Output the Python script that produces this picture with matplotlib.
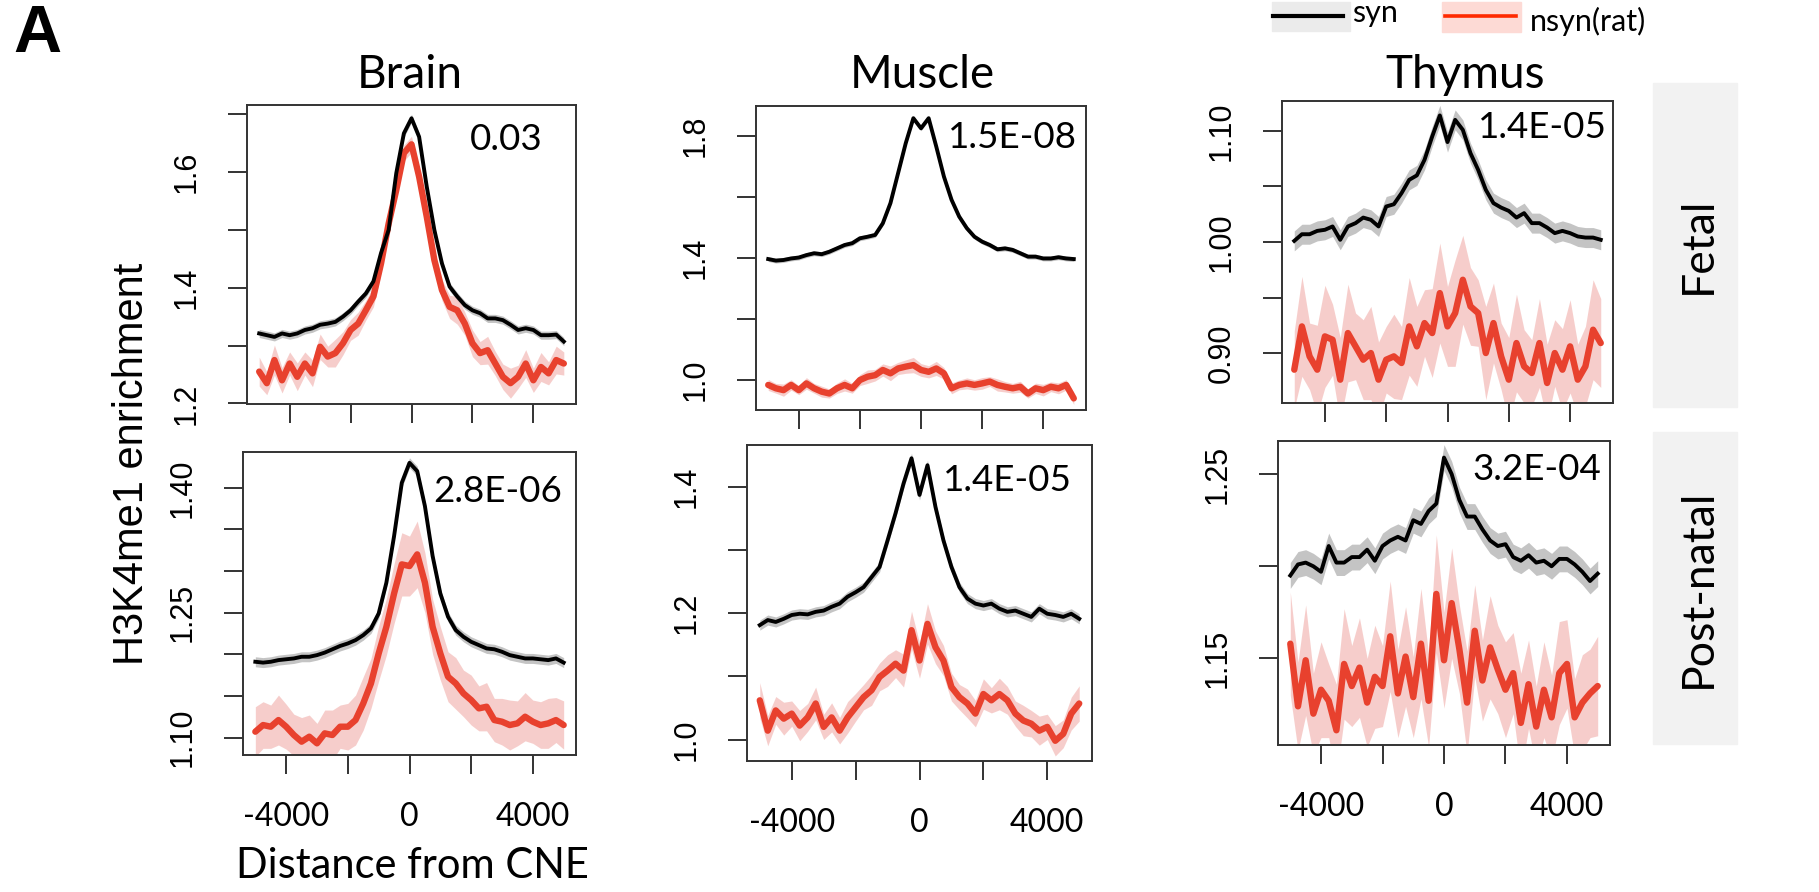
import numpy as np
import matplotlib.pyplot as plt
from matplotlib import font_manager
from matplotlib.patches import Rectangle
from matplotlib.lines import Line2D

# distance bins (bp) shared by every profile
distance = np.arange(-5000, 5001, 250)

# ---- Brain ----
brain_fetal_syn = [1.321, 1.318, 1.315, 1.321, 1.318, 1.321, 1.327, 1.330, 1.336, 1.338, 1.341,
                   1.350, 1.361, 1.376, 1.390, 1.411, 1.460, 1.500, 1.598, 1.667, 1.693, 1.661,
                   1.575, 1.500, 1.442, 1.402, 1.385, 1.370, 1.361, 1.356, 1.347, 1.347, 1.344,
                   1.336, 1.327, 1.330, 1.327, 1.318, 1.318, 1.319, 1.307]
brain_fetal_nsyn = [1.255, 1.235, 1.275, 1.240, 1.269, 1.246, 1.269, 1.252, 1.298, 1.281, 1.287,
                    1.304, 1.327, 1.338, 1.361, 1.385, 1.442, 1.511, 1.569, 1.633, 1.648, 1.592,
                    1.523, 1.448, 1.396, 1.367, 1.361, 1.338, 1.304, 1.287, 1.292, 1.269, 1.246,
                    1.235, 1.246, 1.269, 1.240, 1.263, 1.252, 1.275, 1.269]
brain_fetal_nsyn_ci = [0.025, 0.02, 0.026, 0.022, 0.02, 0.024, 0.02, 0.023, 0.022, 0.018, 0.024,
                       0.02, 0.018, 0.02, 0.017, 0.018, 0.016, 0.015, 0.015, 0.014, 0.014, 0.015,
                       0.016, 0.017, 0.018, 0.02, 0.024, 0.02, 0.023, 0.02, 0.024, 0.021, 0.022,
                       0.026, 0.02, 0.024, 0.021, 0.025, 0.02, 0.024, 0.02]
brain_post_syn = [1.191, 1.190, 1.191, 1.193, 1.194, 1.195, 1.197, 1.197, 1.199, 1.202, 1.206,
                  1.210, 1.213, 1.217, 1.223, 1.231, 1.249, 1.286, 1.342, 1.406, 1.430, 1.420,
                  1.378, 1.318, 1.273, 1.245, 1.229, 1.221, 1.215, 1.211, 1.207, 1.206, 1.203,
                  1.199, 1.197, 1.195, 1.195, 1.194, 1.193, 1.195, 1.190]
brain_post_nsyn = [1.107, 1.115, 1.113, 1.121, 1.113, 1.103, 1.095, 1.101, 1.093, 1.105, 1.103,
                   1.113, 1.113, 1.121, 1.141, 1.165, 1.201, 1.233, 1.273, 1.308, 1.306, 1.320,
                   1.286, 1.233, 1.201, 1.173, 1.165, 1.153, 1.145, 1.135, 1.137, 1.121, 1.119,
                   1.115, 1.117, 1.125, 1.119, 1.115, 1.117, 1.121, 1.115]
brain_post_nsyn_ci = [0.03, 0.028, 0.026, 0.03, 0.027, 0.025, 0.029, 0.026, 0.024, 0.028, 0.03,
                      0.026, 0.028, 0.03, 0.032, 0.03, 0.033, 0.034, 0.036, 0.038, 0.036, 0.04,
                      0.036, 0.033, 0.032, 0.03, 0.031, 0.028, 0.03, 0.027, 0.029, 0.026, 0.028,
                      0.03, 0.027, 0.029, 0.026, 0.028, 0.03, 0.027, 0.029]

# ---- Muscle ----
muscle_fetal_syn = [1.396, 1.391, 1.393, 1.398, 1.401, 1.409, 1.415, 1.412, 1.420, 1.431, 1.442,
                    1.448, 1.464, 1.469, 1.475, 1.513, 1.579, 1.677, 1.775, 1.857, 1.824, 1.857,
                    1.764, 1.666, 1.590, 1.535, 1.497, 1.469, 1.453, 1.442, 1.428, 1.431, 1.426,
                    1.415, 1.404, 1.404, 1.398, 1.398, 1.402, 1.398, 1.396]
muscle_fetal_nsyn = [0.984, 0.973, 0.967, 0.984, 0.967, 0.989, 0.973, 0.962, 0.956, 0.973, 0.984,
                     0.973, 1.000, 1.011, 1.016, 1.033, 1.022, 1.038, 1.044, 1.049, 1.033, 1.027,
                     1.038, 1.022, 0.973, 0.984, 0.989, 0.984, 0.989, 0.995, 0.984, 0.978, 0.973,
                     0.978, 0.956, 0.973, 0.967, 0.978, 0.973, 0.984, 0.940]
muscle_fetal_nsyn_ci = [0.018, 0.016, 0.02, 0.017, 0.015, 0.019, 0.016, 0.018, 0.015, 0.017, 0.02,
                        0.016, 0.018, 0.022, 0.019, 0.02, 0.024, 0.02, 0.022, 0.025, 0.021, 0.02,
                        0.023, 0.019, 0.018, 0.016, 0.018, 0.017, 0.019, 0.016, 0.02, 0.017, 0.016,
                        0.018, 0.015, 0.017, 0.019, 0.016, 0.018, 0.017, 0.02]
muscle_post_syn = [1.181, 1.189, 1.186, 1.191, 1.197, 1.199, 1.198, 1.202, 1.204, 1.210, 1.215,
                   1.226, 1.233, 1.241, 1.257, 1.273, 1.315, 1.358, 1.405, 1.445, 1.387, 1.434,
                   1.368, 1.315, 1.273, 1.241, 1.223, 1.215, 1.212, 1.215, 1.207, 1.202, 1.204,
                   1.199, 1.194, 1.207, 1.199, 1.197, 1.194, 1.199, 1.191]
muscle_post_nsyn = [1.062, 1.014, 1.046, 1.033, 1.041, 1.022, 1.035, 1.057, 1.020, 1.035, 1.014,
                    1.035, 1.051, 1.067, 1.078, 1.099, 1.109, 1.120, 1.109, 1.173, 1.125, 1.183,
                    1.146, 1.125, 1.083, 1.067, 1.057, 1.041, 1.072, 1.062, 1.072, 1.062, 1.041,
                    1.030, 1.025, 1.014, 1.020, 0.998, 1.009, 1.041, 1.057]
muscle_post_nsyn_ci = [0.028, 0.024, 0.022, 0.026, 0.02, 0.024, 0.022, 0.026, 0.02, 0.023, 0.021,
                       0.025, 0.022, 0.02, 0.024, 0.022, 0.025, 0.022, 0.026, 0.03, 0.028, 0.032,
                       0.026, 0.024, 0.022, 0.02, 0.023, 0.021, 0.024, 0.02, 0.025, 0.022, 0.02,
                       0.024, 0.021, 0.023, 0.02, 0.024, 0.022, 0.026, 0.028]

# ---- Thymus ----
thymus_fetal_syn = [1.001, 1.007, 1.007, 1.010, 1.011, 1.014, 1.002, 1.014, 1.017, 1.022, 1.020,
                    1.014, 1.032, 1.034, 1.044, 1.056, 1.060, 1.074, 1.095, 1.114, 1.090, 1.110,
                    1.101, 1.080, 1.065, 1.047, 1.035, 1.031, 1.028, 1.022, 1.026, 1.017, 1.017,
                    1.013, 1.008, 1.010, 1.008, 1.005, 1.004, 1.004, 1.002]
thymus_fetal_nsyn = [0.885, 0.924, 0.897, 0.885, 0.915, 0.912, 0.876, 0.918, 0.906, 0.894, 0.900,
                     0.876, 0.894, 0.897, 0.891, 0.924, 0.906, 0.927, 0.918, 0.954, 0.924, 0.936,
                     0.966, 0.942, 0.936, 0.900, 0.927, 0.897, 0.876, 0.909, 0.888, 0.882, 0.909,
                     0.873, 0.900, 0.885, 0.906, 0.876, 0.888, 0.921, 0.909]
thymus_fetal_nsyn_ci = [0.035, 0.045, 0.03, 0.04, 0.046, 0.032, 0.038, 0.044, 0.03, 0.036, 0.042,
                        0.034, 0.03, 0.038, 0.033, 0.044, 0.036, 0.03, 0.04, 0.045, 0.036, 0.048,
                        0.04, 0.035, 0.03, 0.042, 0.036, 0.03, 0.038, 0.044, 0.033, 0.03, 0.04,
                        0.035, 0.03, 0.037, 0.042, 0.032, 0.036, 0.045, 0.04]
thymus_post_syn = [1.195, 1.201, 1.202, 1.200, 1.197, 1.211, 1.202, 1.202, 1.205, 1.205, 1.209,
                   1.203, 1.211, 1.214, 1.216, 1.214, 1.225, 1.223, 1.230, 1.234, 1.259, 1.250,
                   1.236, 1.227, 1.227, 1.220, 1.214, 1.211, 1.212, 1.205, 1.203, 1.206, 1.202,
                   1.203, 1.200, 1.204, 1.204, 1.201, 1.197, 1.192, 1.196]
thymus_post_nsyn = [1.158, 1.124, 1.149, 1.120, 1.133, 1.127, 1.111, 1.147, 1.135, 1.145, 1.126,
                    1.140, 1.135, 1.162, 1.131, 1.151, 1.129, 1.158, 1.127, 1.185, 1.149, 1.180,
                    1.155, 1.126, 1.165, 1.138, 1.156, 1.144, 1.133, 1.142, 1.115, 1.136, 1.113,
                    1.133, 1.118, 1.142, 1.147, 1.118, 1.126, 1.131, 1.135]
thymus_post_nsyn_ci = [0.028, 0.024, 0.03, 0.022, 0.026, 0.02, 0.025, 0.03, 0.022, 0.027, 0.024,
                       0.028, 0.022, 0.03, 0.024, 0.027, 0.022, 0.03, 0.025, 0.032, 0.026, 0.03,
                       0.024, 0.028, 0.025, 0.022, 0.028, 0.024, 0.026, 0.022, 0.027, 0.024, 0.022,
                       0.026, 0.023, 0.028, 0.024, 0.021, 0.026, 0.024, 0.027]

# half-width of the syn confidence band, per panel
syn_ci = {"brain_fetal": 0.007, "muscle_fetal": 0.008, "thymus_fetal": 0.009,
          "brain_post": 0.006, "muscle_post": 0.008, "thymus_post": 0.007}

pvalues = {"brain_fetal": "0.03", "muscle_fetal": "1.5E-08", "thymus_fetal": "1.4E-05",
           "brain_post": "2.8E-06", "muscle_post": "1.4E-05", "thymus_post": "3.2E-04"}

tissues = ["Brain", "Muscle", "Thymus"]
stages = ["Fetal", "Post-natal"]

xticks = [-4000, -2000, 0, 2000, 4000]
xticklabels = ["-4000", "", "0", "", "4000"]

yticks = {"brain_fetal": [1.2, 1.3, 1.4, 1.5, 1.6, 1.7],
          "muscle_fetal": [1.0, 1.2, 1.4, 1.6, 1.8],
          "thymus_fetal": [0.90, 0.95, 1.00, 1.05, 1.10],
          "brain_post": [1.10, 1.15, 1.20, 1.25, 1.30, 1.35, 1.40],
          "muscle_post": [1.0, 1.1, 1.2, 1.3, 1.4],
          "thymus_post": [1.15, 1.20, 1.25]}
yticklabels = {"brain_fetal": ["1.2", "", "1.4", "", "1.6", ""],
               "muscle_fetal": ["1.0", "", "1.4", "", "1.8"],
               "thymus_fetal": ["0.90", "", "1.00", "", "1.10"],
               "brain_post": ["1.10", "", "", "1.25", "", "", "1.40"],
               "muscle_post": ["1.0", "", "1.2", "", "1.4"],
               "thymus_post": ["1.15", "", "1.25"]}
ylims = {"brain_fetal": (1.199, 1.716), "muscle_fetal": (0.902, 1.897),
         "thymus_fetal": (0.855, 1.127), "brain_post": (1.079, 1.443),
         "muscle_post": (0.966, 1.466), "thymus_post": (1.103, 1.268)}

profiles = {
    "brain_fetal": (brain_fetal_syn, brain_fetal_nsyn, brain_fetal_nsyn_ci),
    "muscle_fetal": (muscle_fetal_syn, muscle_fetal_nsyn, muscle_fetal_nsyn_ci),
    "thymus_fetal": (thymus_fetal_syn, thymus_fetal_nsyn, thymus_fetal_nsyn_ci),
    "brain_post": (brain_post_syn, brain_post_nsyn, brain_post_nsyn_ci),
    "muscle_post": (muscle_post_syn, muscle_post_nsyn, muscle_post_nsyn_ci),
    "thymus_post": (thymus_post_syn, thymus_post_nsyn, thymus_post_nsyn_ci),
}


def has_font(name):
    try:
        font_manager.findfont(name, fallback_to_default=False)
        return True
    except ValueError:
        return False


CAL = "Lato"
ARIAL = "Liberation Sans"
NARROW = "Liberation Sans Narrow" if has_font("Liberation Sans Narrow") else ARIAL

W, H = 1819, 892
fig = plt.figure(figsize=(W / 100, H / 100), dpi=100)

# panel boxes in pixels: left, top, right, bottom
boxes = {"brain_fetal": (247, 105, 576, 404), "muscle_fetal": (756, 106, 1086, 410),
         "thymus_fetal": (1282, 101, 1613, 403), "brain_post": (243, 452, 576, 755),
         "muscle_post": (747, 445, 1092, 761), "thymus_post": (1278, 441, 1610, 745)}
pval_pos = {"brain_fetal": (542, 140), "muscle_fetal": (1077, 138), "thymus_fetal": (1607, 128),
            "brain_post": (562, 491), "muscle_post": (1072, 481), "thymus_post": (1601, 470)}

RED = "#e8412e"
PINK = "#f3b9b6"
GREY = "#c4c4c4"
EDGE = "#333333"

for key, (l, t, r, b) in boxes.items():
    ax = fig.add_axes([l / W, 1 - b / H, (r - l) / W, (b - t) / H])
    syn, nsyn, nsyn_ci = profiles[key]
    syn = np.array(syn)
    nsyn = np.array(nsyn)
    nsyn_ci = np.array(nsyn_ci)
    ax.fill_between(distance, syn - syn_ci[key], syn + syn_ci[key], color=GREY, lw=0, zorder=1)
    ax.fill_between(distance, nsyn - nsyn_ci, nsyn + nsyn_ci, color=PINK, alpha=0.7, lw=0, zorder=1)
    ax.plot(distance, syn, color="black", lw=2.8, zorder=3, solid_joinstyle="round")
    ax.plot(distance, nsyn, color=RED, lw=4.6, zorder=2, solid_joinstyle="round",
            solid_capstyle="round")
    ax.set_xlim(-5400, 5400)
    ax.set_ylim(*ylims[key])
    ax.set_xticks(xticks)
    if key.endswith("post"):
        ax.set_xticklabels(xticklabels, fontfamily=CAL, fontsize=23)
    else:
        ax.set_xticklabels([])
    ax.set_yticks(yticks[key])
    ax.set_yticklabels(yticklabels[key], fontfamily=NARROW, fontsize=22,
                       rotation=90, va="center")
    ax.tick_params(axis="both", length=13.5, width=1.4, color=EDGE)
    ax.tick_params(axis="x", pad=20)
    ax.tick_params(axis="y", pad=19)
    for s in ax.spines.values():
        s.set_linewidth(1.4)
        s.set_color(EDGE)
    px, py = pval_pos[key]
    fig.text(px / W, 1 - py / H, pvalues[key], ha="right", va="center",
             fontfamily=CAL, fontsize=26.5)

# column titles
for name, x in zip(tissues, [410, 922, 1465]):
    fig.text(x / W, 1 - 88 / H, name, ha="center", va="baseline", fontfamily=CAL, fontsize=33)

# row strips
for name, (t, b) in zip(stages, [(83, 407), (432, 744)]):
    fig.patches.append(Rectangle((1653 / W, 1 - b / H), 84 / W, (b - t) / H,
                                 transform=fig.transFigure, color="#f2f2f2", zorder=0))
    fig.text(1698 / W, 1 - (t + b) / 2 / H, name, rotation=90, ha="center", va="center",
             fontfamily=CAL, fontsize=32)

fig.text(132 / W, 1 - 464 / H, "H3K4me1 enrichment", rotation=90, ha="center", va="center",
         fontfamily=NARROW, fontsize=30)
fig.text(412 / W, 1 - 878 / H, "Distance from CNE", ha="center", va="baseline",
         fontfamily=CAL, fontsize=30)
fig.text(13 / W, 1 - 52 / H, "A", ha="left", va="baseline", fontfamily=ARIAL,
         fontweight="bold", fontsize=48)

# legend
fig.patches.append(Rectangle((1272 / W, 1 - 31 / H), 78 / W, 29 / H,
                             transform=fig.transFigure, color="#ebebeb", zorder=0))
fig.lines.append(Line2D([1273 / W, 1343 / W], [1 - 16 / H, 1 - 16 / H],
                        transform=fig.transFigure, color="black", lw=3))
fig.text(1352 / W, 1 - 22 / H, "syn", ha="left", va="baseline", fontfamily=CAL, fontsize=22)
fig.patches.append(Rectangle((1442 / W, 1 - 32 / H), 79 / W, 30 / H,
                             transform=fig.transFigure, color="#fddad5", zorder=0))
fig.lines.append(Line2D([1445 / W, 1516 / W], [1 - 16 / H, 1 - 16 / H],
                        transform=fig.transFigure, color="#ff2a00", lw=2.6))
fig.text(1530 / W, 1 - 31 / H, "nsyn(rat)", ha="left", va="baseline", fontfamily=CAL, fontsize=22)

fig.savefig("out.png", dpi=100)
